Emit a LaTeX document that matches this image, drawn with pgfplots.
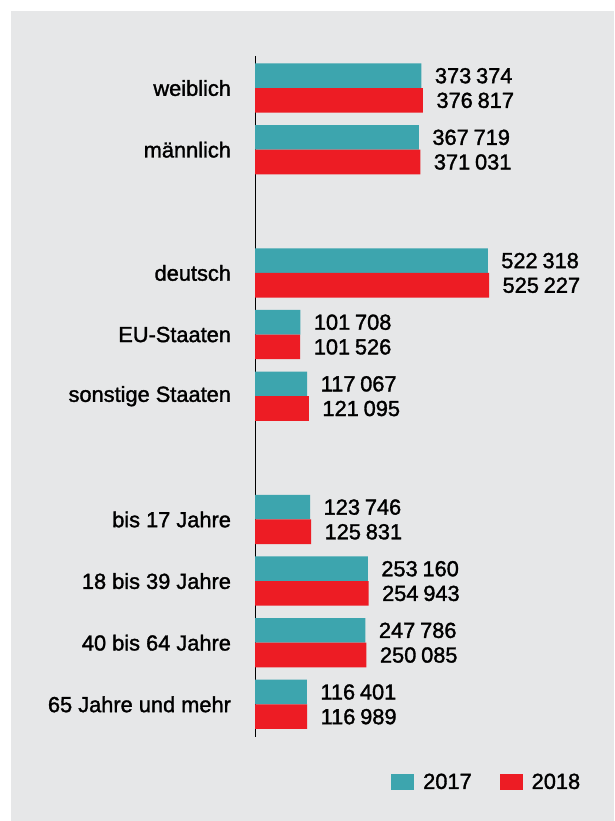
\documentclass[border=0pt]{standalone}
\usepackage{pgfplots}
\pgfplotsset{compat=1.18}
\usepackage{fontspec}
\setmainfont{Liberation Sans}
\newfontfamily\medfont{Liberation Sans}[FakeBold=1.5]
\definecolor{teal17}{RGB}{61,165,174}
\definecolor{red18}{RGB}{237,28,36}
\definecolor{panel}{RGB}{230,231,232}
\newcommand{\lblfont}{\medfont\fontsize{21.8}{25}\selectfont}
\begin{document}
\begin{tikzpicture}
\path[use as bounding box] (0pt,0pt) rectangle (614pt,821pt);
\fill[panel] (11pt,0pt) rectangle (614pt,810pt);
\begin{axis}[
  at={(255pt,84pt)}, anchor=south west,
  scale only axis, width=267.4pt, height=681pt,
  xmin=0, xmax=600000, ymin=-0.52, ymax=10.53, y dir=reverse,
  xbar, bar width=0.4, clip=false,
  axis x line=none, axis y line=left,
  axis line style={-, black, line width=0.8pt},
  ytick={0,1,3,4,5,7,8,9,10},
  yticklabels={weiblich, männlich, deutsch, EU-Staaten, sonstige Staaten, bis 17 Jahre, 18 bis 39 Jahre, 40 bis 64 Jahre, 65 Jahre und mehr},
  major tick length=0pt,
  yticklabel style={font=\lblfont, anchor=east, xshift=-20.5pt},
  point meta=x,
  nodes near coords={\pgfmathprintnumber[fixed, precision=0, 1000 sep={\hspace{0.22em}}, assume math mode=true]{\pgfplotspointmeta}},
  every node near coord/.append style={font=\lblfont, anchor=west, xshift=10pt, text=black},
  legend image code/.code={\fill[#1] (0pt,-8pt) rectangle (23pt,8pt);},
  legend columns=2,
  legend style={draw=none, fill=none, at={(axis description cs:0.5086,-0.0661)}, anchor=west,
    font=\lblfont, inner sep=0pt,
    /tikz/every odd column/.append style={column sep=7pt},
    /tikz/every even column/.append style={column sep=26pt}},
]
\addplot[fill=teal17, draw=none, bar shift=-0.2] coordinates {
  (373374,0) (367719,1) (522318,3) (101708,4) (117067,5)
  (123746,7) (253160,8) (247786,9) (116401,10)};
\addplot[fill=red18, draw=none, bar shift=0.2] coordinates {
  (376817,0) (371031,1) (525227,3) (101526,4) (121095,5)
  (125831,7) (254943,8) (250085,9) (116989,10)};
\legend{2017,2018}
\end{axis}
\end{tikzpicture}
\end{document}
